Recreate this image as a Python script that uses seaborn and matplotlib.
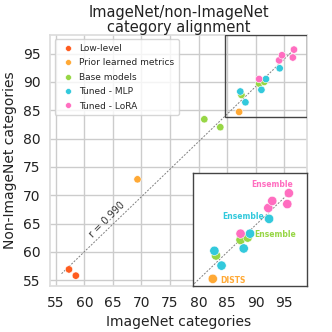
import numpy as np
import pandas as pd
import matplotlib
matplotlib.use("Agg")
import matplotlib.pyplot as plt
from matplotlib.patches import Rectangle
import seaborn as sns

# valori (ImageNet vs non-ImageNet)
low_x = [57.3, 58.5]
low_y = [56.9, 55.8]
prior_x = [69.3, 87.1]
prior_y = [72.8, 84.7]
base_x = [81.0, 83.8, 87.5, 90.6, 91.5]
base_y = [83.4, 82.0, 87.7, 89.7, 90.0]
mlp_x = [87.3, 88.2, 91.0, 91.8, 94.2]
mlp_y = [88.3, 86.4, 88.6, 90.5, 92.4]
lora_x = [90.6, 94.1, 94.6, 96.5, 96.7]
lora_y = [90.5, 93.8, 94.7, 94.3, 95.7]

groups = ["Low-level", "Prior learned metrics", "Base models", "Tuned - MLP", "Tuned - LoRA"]
colors = ["#ff5c1f", "#ffa935", "#97d645", "#33c9dc", "#ff6ec0"]
r_label = "r = 0.990"

df = pd.concat([
    pd.DataFrame({"x": low_x, "y": low_y, "group": groups[0]}),
    pd.DataFrame({"x": prior_x, "y": prior_y, "group": groups[1]}),
    pd.DataFrame({"x": base_x, "y": base_y, "group": groups[2]}),
    pd.DataFrame({"x": mlp_x, "y": mlp_y, "group": groups[3]}),
    pd.DataFrame({"x": lora_x, "y": lora_y, "group": groups[4]}),
], ignore_index=True)
palette = dict(zip(groups, colors))

sns.set_theme(style="whitegrid")
plt.rcParams['font.family'] = ['DejaVu Sans']

fig = plt.figure(figsize=(3.32, 3.32), dpi=100)
ax = fig.add_axes([0.151, 0.139, 0.774, 0.756])

# retta di regressione
coef = np.polyfit(df["x"], df["y"], 1)
lx = np.array([df["x"].min() - 1.3, df["x"].max()])
ax.plot(lx, np.polyval(coef, lx), ls="--", color="grey", lw=0.7, dashes=(2, 1.5), zorder=1)

sns.scatterplot(data=df, x="x", y="y", hue="group", palette=palette, s=28,
                edgecolor="white", linewidth=0.4, ax=ax, zorder=3)

ax.set_xlim(54, 99)
ax.set_ylim(54, 98.3)
ax.set_xticks(np.arange(55, 100, 5))
ax.set_yticks(np.arange(55, 100, 5))
ax.tick_params(labelsize=10, pad=1, labelcolor="#222222")
ax.set_xlabel("ImageNet categories", fontsize=10, color="#222222")
ax.set_ylabel("Non-ImageNet categories", fontsize=10, color="#222222")
ax.set_title("ImageNet/non-ImageNet\ncategory alignment", fontsize=10.5, pad=2,
             linespacing=1.0, color="#222222")
for s in ax.spines.values():
    s.set_color("#dddddd")

ax.text(64.0, 65.6, r_label, rotation=45, fontsize=7, color="#333333",
        ha="center", va="center")

leg = ax.legend(loc="upper left", fontsize=6.5, markerscale=0.8, handletextpad=0.2,
                borderpad=0.5, labelspacing=0.6, frameon=True, title=None)

# riquadro + zoom
bx0, bx1, by0, by1 = 84.6, 99.0, 83.8, 98.3
ax.add_patch(Rectangle((bx0, by0), bx1 - bx0, by1 - by0, fill=False,
                       edgecolor="#444444", lw=1.0, zorder=4))

axin = ax.inset_axes([0.556, 0.0, 0.444, 0.45])
axin.set_facecolor("white")
axin.plot(lx, np.polyval(coef, lx), ls="--", color="grey", lw=0.7, dashes=(2, 1.5), zorder=1)
sns.scatterplot(data=df, x="x", y="y", hue="group", palette=palette, s=45,
                edgecolor="white", linewidth=0.4, ax=axin, legend=False, zorder=3)
axin.set_xlim(bx0, bx1)
axin.set_ylim(by0, by1)
axin.set_xticks([])
axin.set_yticks([])
axin.set_xlabel("")
axin.set_ylabel("")
axin.grid(False)
for s in axin.spines.values():
    s.set_color("#444444")
    s.set_linewidth(1.0)

ann = dict(fontsize=5.5, fontweight="bold", textcoords="offset points")
axin.annotate("Ensemble", (lora_x[4], lora_y[4]), xytext=(-12, 6), ha="center",
              va="center", color=colors[4], **ann)
axin.annotate("Ensemble", (mlp_x[4], mlp_y[4]), xytext=(-4, 2), ha="right",
              va="center", color=colors[3], **ann)
axin.annotate("Ensemble", (base_x[4], base_y[4]), xytext=(5, 2), ha="left",
              va="center", color=colors[2], **ann)
axin.annotate("DISTS", (prior_x[1], prior_y[1]), xytext=(5, -1), ha="left",
              va="center", color=colors[1], **ann)

fig.savefig("out.png", dpi=100)
